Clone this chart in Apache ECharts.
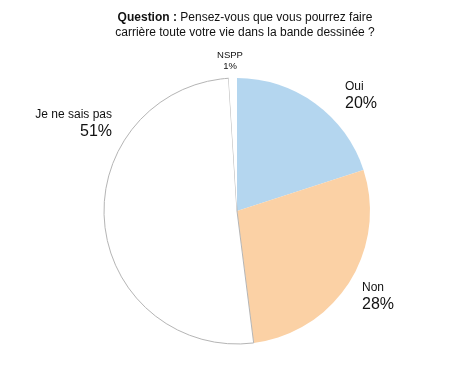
<!DOCTYPE html>
<html><head><meta charset="utf-8">
<script src="https://cdn.jsdelivr.net/npm/echarts@6/dist/echarts.min.js"></script>
<style>html,body{margin:0;padding:0;background:#fff}#c{width:460px;height:365px}</style>
</head><body><div id="c"></div>
<script>
var categories = ['Oui', 'Non', 'Je ne sais pas', 'NSPP'];
var values = [20, 28, 51, 1];
var colors = ['#b4d6ef', '#fbd1a5', '#ffffff', '#ffffff'];

var labelPos = [
  {x: 345, y: 96, align: 'left', small: false},
  {x: 362, y: 297, align: 'left', small: false},
  {x: 112, y: 124, align: 'right', small: false},
  {x: 230, y: 61, align: 'center', small: true}
];

var chart = echarts.init(document.getElementById('c'));
var data = categories.map(function (c, i) {
  var item = {name: c, value: values[i], itemStyle: {color: colors[i]}};
  if (i === 2) { item.itemStyle.borderColor = '#b5b5b5'; item.itemStyle.borderWidth = 1; }
  var lp = labelPos[i];
  item.label = {
    align: lp.align,
    formatter: lp.small ? '{s|{b}}\n{s|{c}%}' : '{n|{b}}\n{p|{c}%}'
  };
  return item;
});

chart.setOption({
  animation: false,
  backgroundColor: '#fff',
  title: {
    text: '{b|Question :} Pensez-vous que vous pourrez faire\ncarrière toute votre vie dans la bande dessinée ?',
    left: 240, top: 5, textAlign: 'center',
    textStyle: {
      fontFamily: 'Liberation Sans', fontSize: 12, fontWeight: 'normal', color: '#111', lineHeight: 15,
      rich: {b: {fontFamily: 'Liberation Sans', fontSize: 12, fontWeight: 'bold', color: '#111', lineHeight: 15}}
    }
  },
  series: [{
    type: 'pie',
    center: [237, 211],
    radius: [0, 133],
    startAngle: 90,
    clockwise: true,
    silent: true,
    label: {
      show: true, position: 'outside', color: '#111', fontFamily: 'Liberation Sans',
      overflow: 'none', width: 200, alignTo: 'none', bleedMargin: 0,
      rich: {
        n: {fontFamily: 'Liberation Sans', fontSize: 12, color: '#111', lineHeight: 15},
        p: {fontFamily: 'Liberation Sans', fontSize: 16, color: '#111', lineHeight: 19},
        s: {fontFamily: 'Liberation Sans', fontSize: 9.5, color: '#111', lineHeight: 11}
      }
    },
    labelLine: {show: false},
    labelLayout: function (params) {
      var lp = labelPos[params.dataIndex];
      return {x: lp.x, y: lp.y, align: lp.align, verticalAlign: 'middle'};
    },
    data: data
  }]
});
</script></body></html>
